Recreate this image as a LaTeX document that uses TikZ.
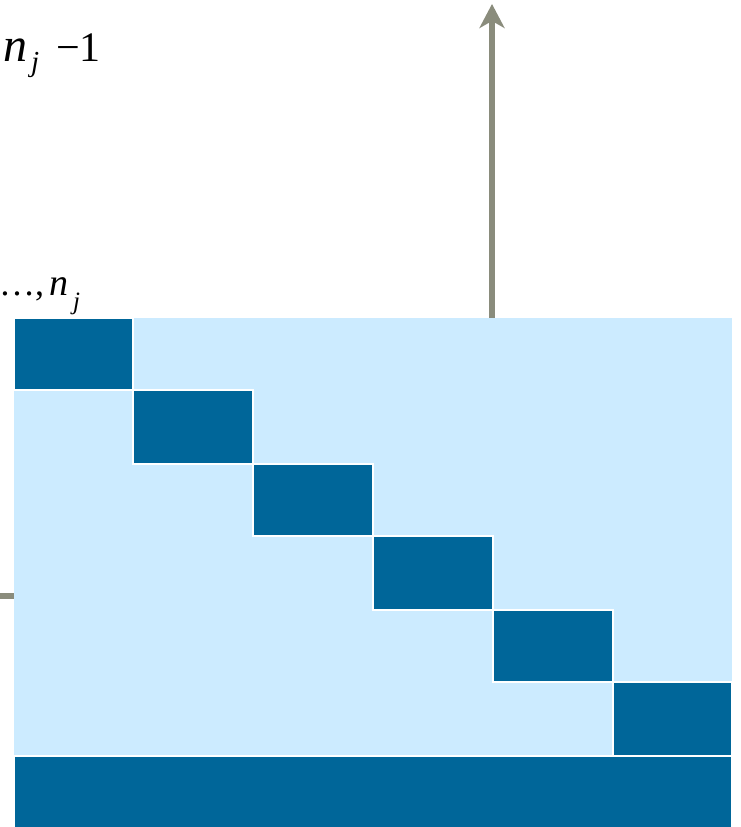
\documentclass[tikz,border=0pt]{standalone}
\usepackage{fontspec}
\setmainfont{Liberation Serif}
\newfontfamily\tnr{Liberation Serif}
\usetikzlibrary{arrows.meta}
\definecolor{darkb}{RGB}{0,102,153}
\definecolor{lightb}{RGB}{204,235,255}
\definecolor{arrowc}{RGB}{138,140,124}
\tikzset{
  blk/.style={fill=darkb, draw=white, line width=2},
  axisline/.style={draw=arrowc, line width=6},
  lbl/.style={inner sep=0pt, outer sep=0pt, anchor=base west, text=black, font=\tnr},
}
\begin{document}
\begin{tikzpicture}[x=1pt,y=-1pt]
\useasboundingbox (0,0) rectangle (741,827);
% axes behind the matrix
\coordinate (vbot) at (492,318);
\coordinate (vtop) at (492,4);
\draw[axisline, -{Stealth[length=24pt,width=25pt,inset=7pt]}] (vbot) -- (vtop);
\coordinate (hleft) at (0,596);
\coordinate (hright) at (20,596);
\draw[axisline] (hleft) -- (hright);
% matrix background
\fill[lightb] (14,318) rectangle (732,827);
% diagonal blocks
\path[blk] (14,318) rectangle (133,389.7);
\path[blk] (133,389.7) rectangle (253,463.7);
\path[blk] (253,463.7) rectangle (373,536.3);
\path[blk] (373,536.3) rectangle (493,609.7);
\path[blk] (493,609.7) rectangle (613,682.3);
\path[blk] (613,682.3) rectangle (732,755.7);
\path[blk] (14,755.7) rectangle (732,828);
% labels
\node[lbl] (t1n) at (3,61) {\fontsize{48}{48}\selectfont\itshape n};
\node[lbl] (t1j) at (31,71) {\fontsize{29}{29}\selectfont\itshape j};
\node[lbl] (t1m) at (56,61) {\fontsize{42}{42}\selectfont −1};
\node[lbl] (t2d) at (-1,295) {\fontsize{36}{36}\selectfont …,};
\node[lbl] (t2n) at (49,295) {\fontsize{38}{38}\selectfont\itshape n};
\node[lbl] (t2j) at (73,309) {\fontsize{25}{25}\selectfont\itshape j};
\end{tikzpicture}
\end{document}
